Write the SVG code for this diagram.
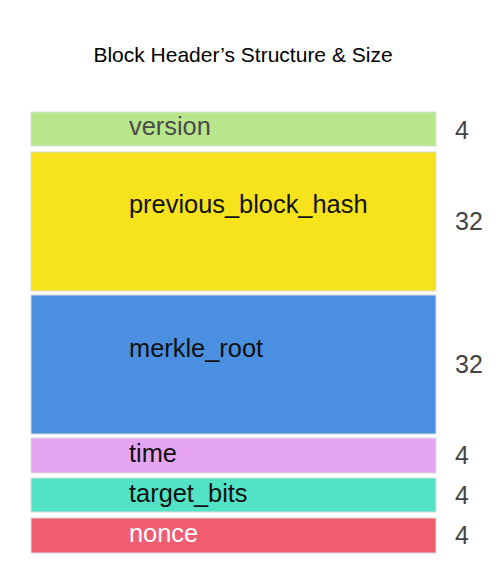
<svg xmlns="http://www.w3.org/2000/svg" width="500" height="562" viewBox="0 0 500 562">
<style>
text{font-family:"Liberation Sans",Arial,sans-serif}
.lbl{font-size:25.4px;fill:#111}
.num{font-size:25px;fill:#444}
.box{stroke:#dcdcdc;stroke-width:1}
</style>
<rect width="500" height="562" fill="#fff"/>
<text x="243" y="62" font-size="21" text-anchor="middle" fill="#000">Block Header’s Structure &amp; Size</text>
<g id="version"><rect class="box" x="31" y="112" width="405" height="34" fill="#b8e68a"/><text class="lbl" x="129" y="135" style="fill:#4a4a4a">version</text><text class="num" x="455" y="139">4</text></g>
<g id="previous_block_hash"><rect class="box" x="31" y="152" width="405" height="139" fill="#f7e31c"/><text class="lbl" x="129" y="213">previous_block_hash</text><text class="num" x="455" y="230">32</text></g>
<g id="merkle_root"><rect class="box" x="31" y="295" width="405" height="139" fill="#4a8fe0"/><text class="lbl" x="129" y="357">merkle_root</text><text class="num" x="455" y="373">32</text></g>
<g id="time"><rect class="box" x="31" y="438" width="405" height="35" fill="#e6a5f0"/><text class="lbl" x="129" y="462">time</text><text class="num" x="455" y="464">4</text></g>
<g id="target_bits"><rect class="box" x="31" y="478" width="405" height="34" fill="#52e3c4"/><text class="lbl" x="129" y="502">target_bits</text><text class="num" x="455" y="504">4</text></g>
<g id="nonce"><rect class="box" x="31" y="518" width="405" height="35" fill="#f05d70"/><text class="lbl" x="129" y="542" style="fill:#fff">nonce</text><text class="num" x="455" y="544">4</text></g>
<g id="connectors"/>
</svg>
